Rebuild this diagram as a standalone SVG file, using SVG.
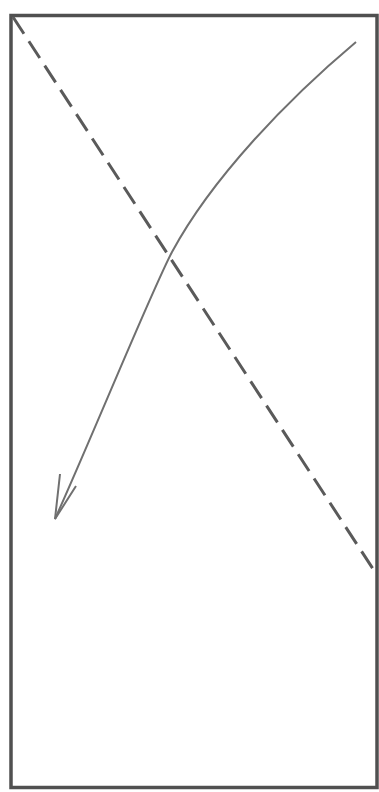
<svg xmlns="http://www.w3.org/2000/svg" width="379" height="792" viewBox="0 0 379 792">
<style>
.frame{fill:#fff;stroke:#505050;stroke-width:3.5}
.dash{fill:none;stroke:#5a5a5a;stroke-width:3;stroke-dasharray:20 9}
.curve{fill:none;stroke:#707070;stroke-width:2}
</style>
<rect width="379" height="792" fill="#fff"/>
<g id="frame"><rect class="frame" x="11" y="15.5" width="366" height="772"/></g>
<g id="connectors">
<path class="dash" d="M13,17 L377,575"/>
<path class="curve" d="M356,42 C287,100 212,178 172,252 C151,292 95,430 55,519"/>
<path class="curve" d="M60,474 L55,519 L76,486"/>
</g>
</svg>
